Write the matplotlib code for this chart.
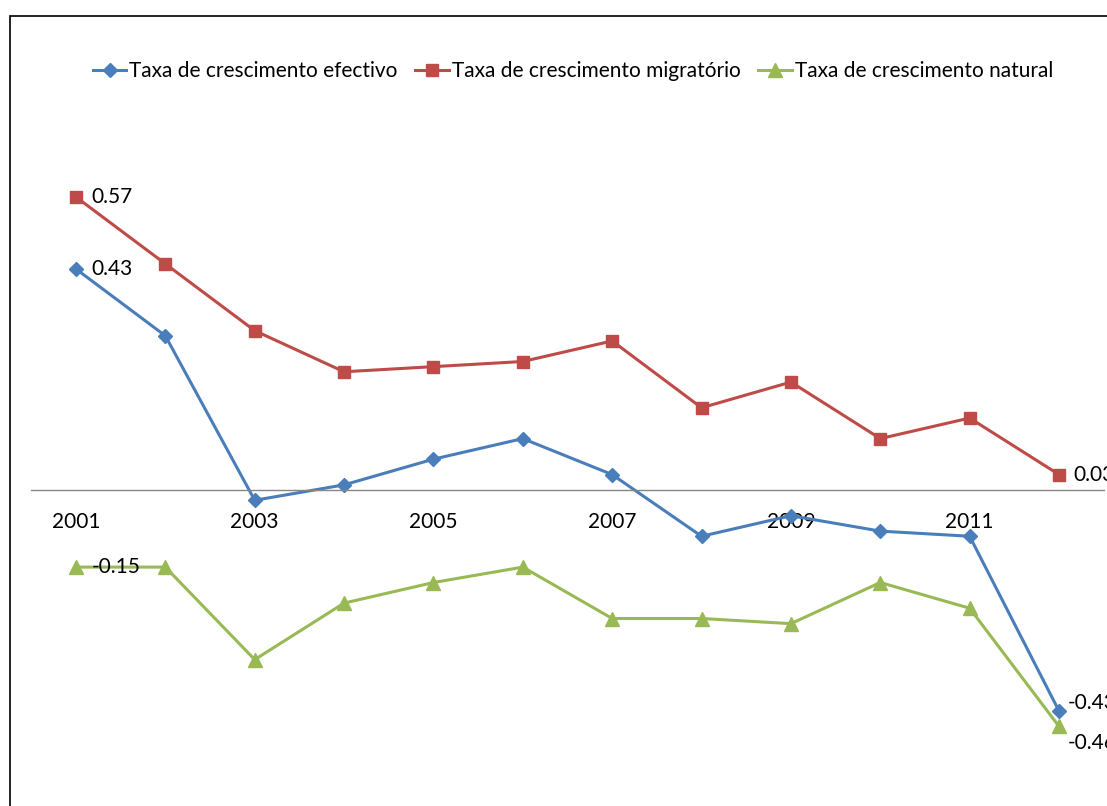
import matplotlib
matplotlib.use('Agg')
import matplotlib.pyplot as plt
from matplotlib.patches import Rectangle

plt.rcParams['font.family'] = ['Lato', 'DejaVu Sans']

anos = list(range(2001, 2013))
efectivo = [0.43, 0.30, -0.02, 0.01, 0.06, 0.10, 0.03, -0.09, -0.05, -0.08, -0.09, -0.43]
migratorio = [0.57, 0.44, 0.31, 0.23, 0.24, 0.25, 0.29, 0.16, 0.21, 0.10, 0.14, 0.03]
natural = [-0.15, -0.15, -0.33, -0.22, -0.18, -0.15, -0.25, -0.25, -0.26, -0.18, -0.23, -0.46]
anos_eixo = [2001, 2003, 2005, 2007, 2009, 2011]

W, H = 1107, 806
fig = plt.figure(figsize=(W / 100, H / 100), dpi=100)

# moldura do gráfico (sai pela direita e por baixo)
fig.patches.append(Rectangle((10 / W, -0.1), 1.2, 1 - 16 / H + 0.1, transform=fig.transFigure,
                             fill=False, edgecolor='black', linewidth=1.2))

x0, x1 = 31.3 / W, 1103.7 / W
ax = fig.add_axes([x0, 0, x1 - x0, 1])
ax.set_xlim(2000.5, 2012.5)
ax.set_ylim(-(H - 490) / 514, 490 / 514)
ax.patch.set_visible(False)

azul, vermelho, verde = '#4A7EBB', '#BE4B48', '#98B954'
ax.plot(anos, efectivo, color=azul, lw=2.2, marker='D', ms=7.5, label='Taxa de crescimento efectivo')
ax.plot(anos, migratorio, color=vermelho, lw=2.2, marker='s', ms=8.5, label='Taxa de crescimento migratório')
ax.plot(anos, natural, color=verde, lw=2.2, marker='^', ms=10, label='Taxa de crescimento natural')

for s in ['top', 'right', 'left']:
    ax.spines[s].set_visible(False)
ax.spines['bottom'].set_position(('data', 0))
ax.spines['bottom'].set_color('#868686')
ax.spines['bottom'].set_linewidth(1.0)
ax.set_yticks([])
ax.set_xticks(anos_eixo)
ax.set_xticklabels([str(a) for a in anos_eixo], fontsize=15)
ax.tick_params(axis='x', length=0, pad=15.5)

fs = 15
def rotulo(x, y, dx=11, dy=0):
    ax.annotate(f'{y:.2f}', (x, y), xytext=(dx, dy), textcoords='offset points',
                ha='left', va='center', fontsize=fs, annotation_clip=False)

rotulo(anos[0], migratorio[0])
rotulo(anos[0], efectivo[0])
rotulo(anos[0], natural[0])
rotulo(anos[-1], migratorio[-1], dx=10)
rotulo(anos[-1], efectivo[-1], dx=6, dy=6)
rotulo(anos[-1], natural[-1], dx=6, dy=-12)

fig.legend(loc='center', bbox_to_anchor=(573 / W, 1 - 71 / H), ncol=3, frameon=False,
           fontsize=fs, handlelength=1.6, handletextpad=0.15, columnspacing=0.85)

fig.savefig('out.png', dpi=100)
